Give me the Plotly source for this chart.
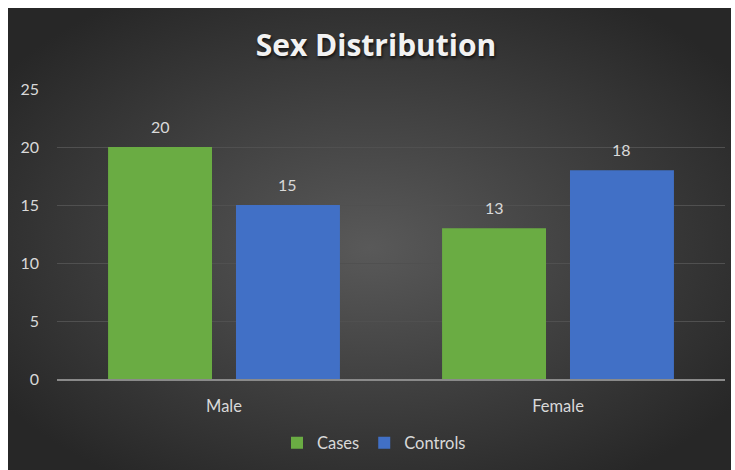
import base64
import plotly.graph_objects as go

categories = ["Male", "Female"]
series_names = ["Cases", "Controls"]
cases = [20, 13]
controls = [15, 18]
colors = ["#6aac43", "#4170c6"]
title_text = "Sex Distribution"

FONT = "Lato, 'Open Sans', sans-serif"
TFONT = "'Open Sans', sans-serif"

svg = (
    '<svg xmlns="http://www.w3.org/2000/svg" width="723" height="462" viewBox="0 0 723 462" preserveAspectRatio="none">'
    '<defs><radialGradient id="g" cx="50%" cy="50%" r="62%" fx="50%" fy="52%">'
    '<stop offset="0" stop-color="#595959"/><stop offset="1" stop-color="#272727"/>'
    '</radialGradient></defs><rect width="723" height="462" fill="url(#g)"/></svg>'
)
bg_src = "data:image/svg+xml;base64," + base64.b64encode(svg.encode()).decode()

L, R, T, B = 57, 10, 89, 91
W, H = 735, 470
pw, ph = W - L - R, H - T - B
BARGAP, GROUPGAP = 0.234, 0.1875
slot_px = pw / len(categories) * (1 - BARGAP) / len(series_names)

fig = go.Figure()
for i, (name, vals, col) in enumerate(zip(series_names, [cases, controls], colors)):
    fig.add_trace(go.Bar(
        x=categories, y=vals, name=name,
        marker=dict(color=col, line=dict(width=0)),
    ))
    for cat, v in zip(categories, vals):
        fig.add_annotation(
            x=cat, y=v, xref="x", yref="y", text=str(v), showarrow=False,
            xanchor="center", yanchor="bottom",
            xshift=(i - (len(series_names) - 1) / 2) * slot_px, yshift=9,
            font=dict(color="#d9d9d9", size=16, family=FONT),
        )

fig.add_layout_image(dict(
    source=bg_src, xref="paper", yref="paper",
    x=(8 - L) / pw, y=(H - B - 8) / ph,
    sizex=(731 - 8) / pw, sizey=(470 - 8) / ph,
    xanchor="left", yanchor="top", sizing="stretch", layer="below",
))

fig.update_layout(
    width=W, height=H,
    margin=dict(l=L, r=R, t=T, b=B, autoexpand=False),
    paper_bgcolor="white", plot_bgcolor="rgba(0,0,0,0)",
    barmode="group", bargap=BARGAP, bargroupgap=GROUPGAP,
    title=dict(text="<b>" + title_text + "</b>", x=376 / W, xanchor="center",
               y=1 - 45 / H, yanchor="middle",
               font=dict(size=30, color="#f2f2f2", family=TFONT,
                         shadow="1px 2px 3px rgba(0,0,0,0.7)")),
    showlegend=True,
    legend=dict(orientation="h", x=(374 - L) / pw, xanchor="center",
                y=(H - B - 443) / ph, yanchor="middle",
                font=dict(size=16.5, color="#d9d9d9", family=FONT), itemwidth=30,
                bgcolor="rgba(0,0,0,0)", traceorder="normal"),
    font=dict(family=FONT, color="#d9d9d9"),
)
fig.update_yaxes(range=[0, 25], dtick=5, showgrid=True, gridcolor="#505050", gridwidth=1,
                 zeroline=False, showline=False, ticks="", ticklabelstandoff=17,
                 tickfont=dict(size=16, color="#d9d9d9", family=FONT))
fig.update_xaxes(showline=True, linecolor="#8a8a8a", linewidth=2, ticks="", ticklabelstandoff=11,
                 tickfont=dict(size=16.5, color="#d9d9d9", family=FONT))

fig.write_html("out.html")
